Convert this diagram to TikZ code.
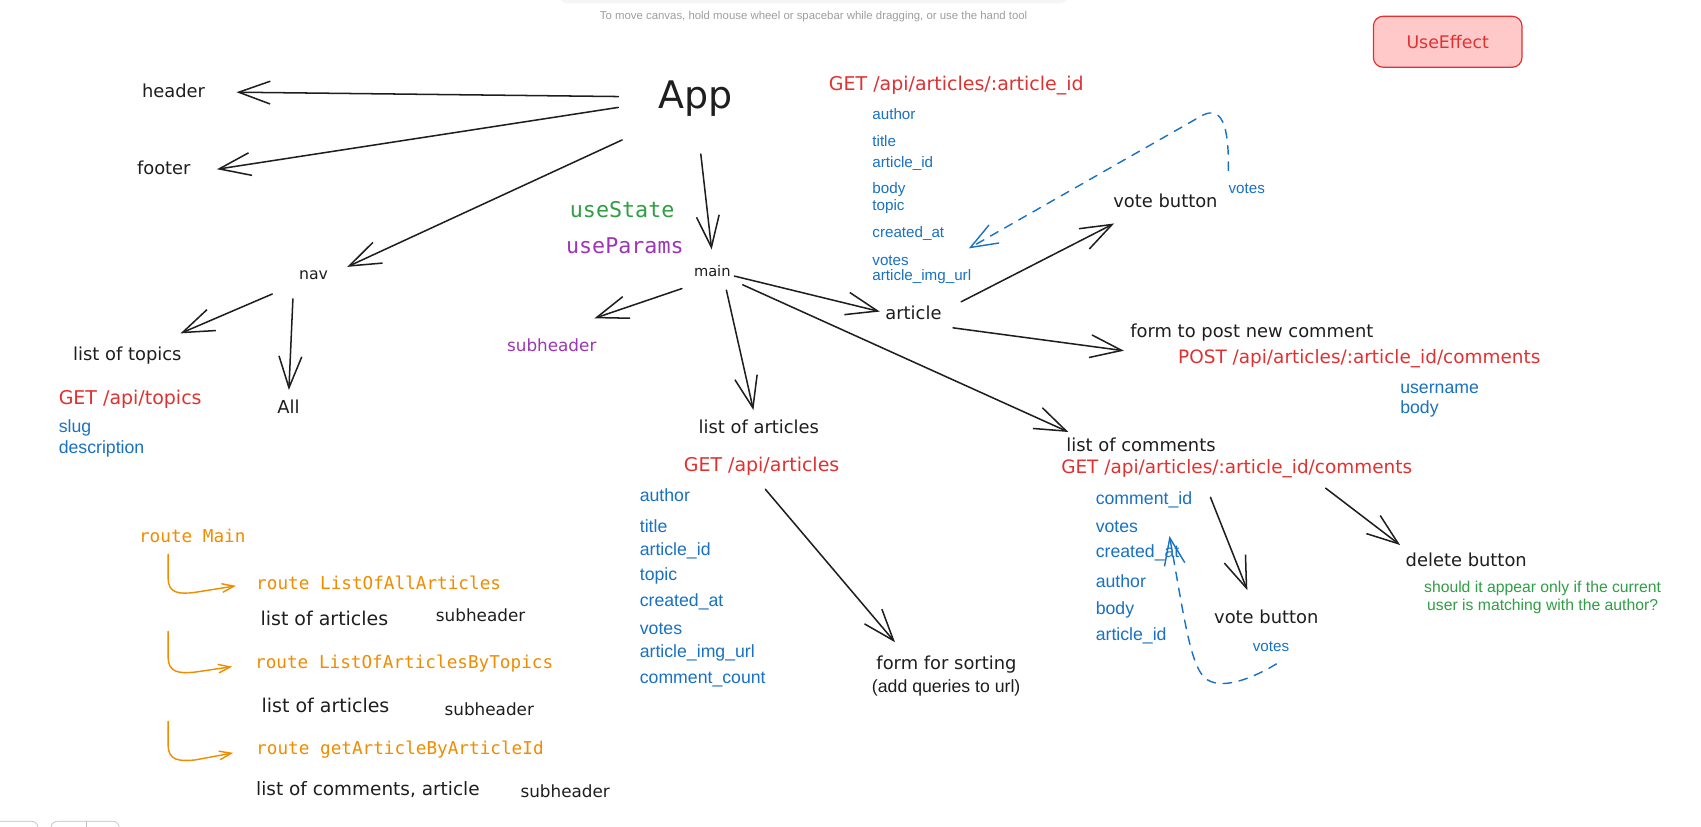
\documentclass[tikz,border=0pt]{standalone}
\usepackage{fontspec}
\setmainfont{DejaVu Sans}
\newfontfamily\handf{DejaVu Sans}
\newfontfamily\arialf{Liberation Sans}
\newfontfamily\monof{DejaVu Sans Mono}
\usetikzlibrary{arrows.meta,calc}
\definecolor{ink}{HTML}{1E1E1E}
\definecolor{exred}{HTML}{E03131}
\definecolor{exblue}{HTML}{1971C2}
\definecolor{exgreen}{HTML}{2F9E44}
\definecolor{expurple}{HTML}{9C36B5}
\definecolor{exorange}{HTML}{F08C00}
\definecolor{boxfill}{HTML}{FFC9C9}
\tikzset{
  txt/.style={inner sep=0pt, text=ink, font=\handf\fontsize{16.5}{19}\selectfont},
  smalltxt/.style={txt, font=\handf\fontsize{14}{16}\selectfont},
  subtxt/.style={txt, font=\handf\fontsize{15.5}{18}\selectfont},
  apitxt/.style={inner sep=0pt, text=exred, font=\handf\fontsize{17.5}{20}\selectfont},
  fld/.style={inner sep=0pt, anchor=west, text=exblue, font=\arialf\fontsize{16.3}{19}\selectfont},
  fldsm/.style={fld, font=\arialf\fontsize{14}{16}\selectfont},
  routetxt/.style={inner sep=0pt, anchor=west, text=exorange, font=\monof\fontsize{16.3}{19}\selectfont},
  hookname/.style={inner sep=0pt, font=\monof\fontsize{20}{24}\selectfont},
  arr/.style={draw=ink, line width=1.4pt, line cap=round, -{Straight Barb[length=29pt,width=21pt]}},
  darr/.style={draw=exblue, line width=1.3pt, line cap=round, dash pattern=on 8pt off 7pt, -{Straight Barb[length=25pt,width=19pt]}},
  oarr/.style={draw=exorange, line width=1.3pt, line cap=round, -{Straight Barb[length=11pt,width=8pt]}}
}
\begin{document}
\begin{tikzpicture}[x=1pt,y=-1pt]
\useasboundingbox (0,0) rectangle (1568,762);
\clip (0,0) rectangle (1568,762);
\fill[white] (0,0) rectangle (1568,762);
% UI chrome
\fill[black!4, rounded corners=8pt] (515,-20) rectangle (985,3);
\draw[black!25, line width=0.6pt, rounded corners=6pt] (-6,757) rectangle (35,780);
\draw[black!25, line width=0.6pt, rounded corners=6pt] (47,757) rectangle (110,780);
\draw[black!25, line width=0.6pt] (80,757) -- (80,780);
\node[inner sep=0pt, text=black!38, font=\arialf\fontsize{10.5}{12}\selectfont] (hint) at (750,15.4) {To move canvas, hold mouse wheel or spacebar while dragging, or use the hand tool};

% UseEffect box
\node[draw=exred, fill=boxfill, line width=1.1pt, rounded corners=9pt, minimum width=137pt, minimum height=47pt, text=exred, font=\handf\fontsize{16}{19}\selectfont] (useeffect) at (1334.5,38.5) {UseEffect};

% main nodes
\node[txt, font=\handf\fontsize{35}{40}\selectfont] (app) at (641,91) {App};
\node[txt] (header) at (160,84) {header};
\node[txt] (footer) at (151,155) {footer};
\node[smalltxt, font=\handf\fontsize{14.5}{17}\selectfont] (nav) at (289,253.5) {nav};
\node[smalltxt, font=\handf\fontsize{13.5}{16}\selectfont] (main) at (656.6,249.5) {main};
\node[hookname, text=exgreen] (usestate) at (573.5,193) {useState};
\node[hookname, text=expurple] (useparams) at (576,226.8) {useParams};

% nav branch
\node[txt] (topics) at (117.4,328) {list of topics};
\node[apitxt] (gettopics) at (120,368) {GET /api/topics};
\node[fld] (slug) at (54,394.8) {slug};
\node[fld] (description) at (54,414) {description};
\node[txt] (all) at (266,375) {All};

% main branch
\node[subtxt, text=expurple] (subhdr) at (508.6,318) {subheader};
\node[txt] (loa) at (699.5,393) {list of articles};
\node[apitxt] (getarticles) at (702,429.6) {GET /api/articles};
\node[fld] (a1) at (589.6,456.3) {author};
\node[fld] (a2) at (589.6,484.9) {title};
\node[fld] (a3) at (589.6,507.9) {article\_id};
\node[fld] (a4) at (589.6,531) {topic};
\node[fld] (a5) at (589.6,554.6) {created\_at};
\node[fld] (a6) at (589.6,579.8) {votes};
\node[fld] (a7) at (589.6,602.3) {article\_img\_url};
\node[fld] (a8) at (589.6,626.8) {comment\_count};
\node[txt] (sorting) at (872.5,612.4) {form for sorting};
\node[inner sep=0pt, anchor=west, text=ink, font=\arialf\fontsize{16.3}{19}\selectfont] (queries) at (803.6,634.5) {(add queries to url)};

% single article
\node[apitxt] (getarticle) at (881.5,79) {GET /api/articles/:article\_id};
\node[fldsm] (b1) at (804,105.4) {author};
\node[fldsm] (b2) at (804,130) {title};
\node[fldsm] (b3) at (804,150.6) {article\_id};
\node[fldsm] (b4) at (804,174.5) {body};
\node[fldsm] (b5) at (804,190.5) {topic};
\node[fldsm] (b6) at (804,215) {created\_at};
\node[fldsm] (b7) at (804,240.3) {votes};
\node[fldsm] (b8) at (804,255) {article\_img\_url};
\node[txt] (article) at (842,288.2) {article};
\node[txt] (vb1) at (1074.3,185.3) {vote button};
\node[fldsm, anchor=center] (votes1) at (1149.3,174.2) {votes};
\node[txt] (formpost) at (1154,307) {form to post new comment};
\node[apitxt, font=\handf\fontsize{17}{20}\selectfont] (postc) at (1253,331) {POST /api/articles/:article\_id/comments};
\node[fld] (username) at (1290.6,358.6) {username};
\node[fld] (pbody) at (1290.6,377) {body};

% comments
\node[txt] (loc) at (1051.8,410.2) {list of comments};
\node[apitxt, font=\handf\fontsize{17}{20}\selectfont] (getcomments) at (1140,431.7) {GET /api/articles/:article\_id/comments};
\node[fld] (c1) at (1009.9,460.9) {comment\_id};
\node[fld] (c2) at (1009.9,486) {votes};
\node[fld] (c3) at (1009.9,510) {created\_at};
\node[fld] (c4) at (1009.9,535.3) {author};
\node[fld] (c5) at (1009.9,562.3) {body};
\node[fld] (c6) at (1009.9,586) {article\_id};
\node[txt] (vb2) at (1167.3,569) {vote button};
\node[fldsm, anchor=center] (votes2) at (1171.6,596) {votes};
\node[txt] (delete) at (1351.6,515.6) {delete button};
\node[inner sep=0pt, text=exgreen, align=center, font=\arialf\fontsize{14.5}{16.8}\selectfont] (note) at (1422,550.8) {should it appear only if the current\\user is matching with the author?};

% routes
\node[routetxt] (rmain) at (128,494) {route Main};
\node[routetxt] (r1) at (236,537.5) {route ListOfAllArticles};
\node[txt, anchor=west, font=\handf\fontsize{17.5}{20}\selectfont] (r1a) at (240,570) {list of articles};
\node[subtxt] (r1b) at (443,567) {subheader};
\node[routetxt] (r2) at (235,612) {route ListOfArticlesByTopics};
\node[txt, anchor=west, font=\handf\fontsize{17.5}{20}\selectfont] (r2a) at (241,650) {list of articles};
\node[subtxt] (r2b) at (451,654) {subheader};
\node[routetxt] (r3) at (236,691) {route getArticleByArticleId};
\node[txt, anchor=west, font=\handf\fontsize{17}{20}\selectfont] (r3a) at (236,728) {list of comments, article};
\node[subtxt] (r3b) at (521,729) {subheader};

% connectors from App
\draw[arr] ($(app)+(-71,-2)$) -- ($(header)+(58,1)$);
\draw[arr] ($(app)+(-71,8)$) -- ($(footer)+(49,1)$);
\draw[arr] ($(app)+(-67.5,38)$) -- ($(nav)+(31,-7.5)$);
\draw[arr] ($(app)+(5,51)$) -- ($(main)+(-0.6,-19.5)$);
% nav
\draw[arr] ($(nav)+(-38,17.5)$) -- ($(topics)+(49,-20.7)$);
\draw[arr] ($(nav)+(-19,22)$) -- ($(all)+(0.3,-15.5)$);
% main
\draw[arr] ($(main)+(-28,16.5)$) -- ($(subhdr)+(39.4,-24.6)$);
\draw[arr] ($(main)+(13,18)$) -- ($(loa)+(-5,-15)$);
\draw[arr] ($(main)+(20.4,5)$) -- ($(article)+(-31,-1)$);
\draw[arr] ($(main)+(28,13)$) -- ($(loc)+(-67,-12)$);
% article
\draw[arr] ($(article)+(44,-10)$) -- ($(vb1)+(-47.3,20.7)$);
\draw[arr] ($(article)+(36.5,14)$) -- ($(formpost)+(-118,16.3)$);
% articles list
\draw[arr] ($(getarticles)+(3.5,21.4)$) -- ($(sorting)+(-47.5,-20.4)$);
% comments
\draw[arr] ($(getcomments)+(-24.2,26.7)$) -- ($(vb2)+(-17.5,-25)$);
\draw[arr] ($(getcomments)+(82,18.3)$) -- ($(delete)+(-61,-13.2)$);

% dashed vote arrows
\coordinate (d1end) at (893,229);
\draw[darr] ($(votes1)+(-17,-17)$) .. controls (1133,115) and (1126,98) .. (1109,106) -- (d1end);
\coordinate (d2end) at (1078,494);
\draw[darr] ($(votes2)+(5,16)$) .. controls (1150,628) and (1120,638) .. (1108,622) .. controls (1096,606) and (1090,560) .. (d2end);

% orange route arrows
\coordinate (o1) at (155,511);
\coordinate (o2) at (155,582);
\coordinate (o3) at (155,665);
\draw[oarr] (o1) -- (155,533) .. controls (155,547) and (165,548) .. (180,546) -- ($(r1.west)+(-18.5,2.5)$);
\draw[oarr] (o2) -- (155,606) .. controls (155,620) and (165,621) .. (180,619.5) -- ($(r2.west)+(-21,2.5)$);
\draw[oarr] (o3) -- (155,687) .. controls (155,701) and (165,702) .. (180,700.5) -- ($(r3.west)+(-21,3)$);
\end{tikzpicture}
\end{document}
